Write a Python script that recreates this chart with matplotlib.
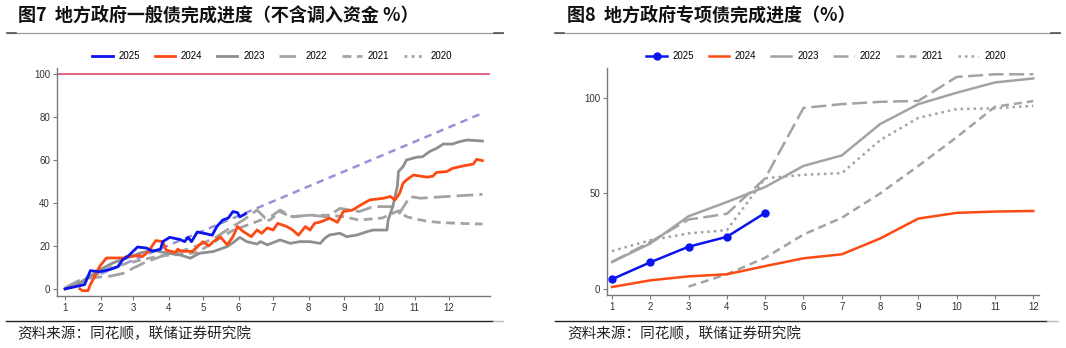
import matplotlib
matplotlib.use("Agg")
import matplotlib.pyplot as plt
from matplotlib.lines import Line2D

plt.rcParams["font.family"] = ["Noto Sans CJK SC", "DejaVu Sans"]

# ---------------- data ----------------
month_labels = [str(m) for m in range(1, 13)]
month_start_days = [0, 31, 59, 90, 120, 151, 181, 212, 243, 273, 304, 334]

# general bonds: cumulative completion (%) by day of year
gen_2025_day = [0, 13, 17, 22, 30, 39, 46, 50, 55, 63, 71, 76, 83, 85, 91, 100, 104,
                107, 110, 115, 124, 128, 132, 137, 142, 146, 150, 152, 157]
gen_2025_val = [0, 1.5, 2, 8.5, 8, 9, 10.4, 13.5, 15.3, 19.5, 19, 17.5, 18.5, 22, 24, 23, 22,
                24, 22, 26.5, 25.5, 25, 29, 32, 33, 36, 35.5, 33.5, 35]

gen_2024_day = [13, 15, 20, 22, 25, 30, 36, 51, 53, 65, 67, 72, 77, 79, 85, 88, 96, 98, 101,
                111, 114, 120, 125, 129, 135, 141, 146, 150, 155, 162, 167, 171, 176, 181,
                185, 193, 198, 203, 209, 213, 217, 223, 230, 237, 242, 250, 257, 265, 277,
                283, 287, 291, 294, 297, 303, 315, 320, 323, 332, 337, 346, 355, 358, 363]
gen_2024_val = [0, -0.8, -0.8, 2, 5, 10.4, 14.4, 14.4, 15, 15.5, 15, 17, 21, 22.5, 22, 18, 17,
                18.5, 17.5, 17.5, 19, 22, 20, 22, 24.3, 20.5, 24.3, 29, 26.7, 24.3, 27.4,
                25.9, 28.4, 27.4, 30.5, 29, 27.4, 25, 29, 27.4, 30.5, 31.3, 32.9, 31, 36,
                36.7, 39, 41.4, 42.2, 43, 41.4, 44.5, 49.2, 50.7, 53, 52, 52.5, 54.2, 54.6,
                56.1, 57.2, 58.1, 60.3, 59.7]

gen_2023_day = [0, 10, 19, 30, 42, 54, 65, 76, 89, 100, 109, 117, 129, 141, 146, 152, 158,
                167, 170, 176, 187, 196, 204, 213, 222, 226, 230, 239, 245, 254, 263, 268,
                280, 281, 285, 289, 290, 294, 297, 306, 311, 317, 323, 329, 337, 343, 350, 363]
gen_2023_val = [0, 1.9, 5, 8.8, 12.2, 14.4, 16.6, 18.1, 16.6, 15.8, 14.3, 16.6, 17.4, 19.7,
                21.5, 24, 22, 20.9, 22, 20.5, 22.8, 21.2, 22, 22, 21.2, 23.6, 25.1, 25.9,
                24.3, 25.1, 26.7, 27.4, 27.4, 32, 38.3, 47.6, 54.6, 56.9, 60, 61.3, 61.5,
                63.9, 65.4, 67.4, 67.4, 68.5, 69.3, 68.8]

gen_2022_day = [0, 16, 28, 39, 51, 59, 71, 83, 94, 109, 120, 132, 143, 155, 167, 174, 180,
                187, 198, 213, 228, 239, 256, 268, 285, 291, 300, 309, 332, 363]
gen_2022_val = [0.5, 5, 5.4, 5.9, 7.3, 9.6, 12.7, 15, 16.6, 18.9, 21.2, 24.3, 28.2, 32,
                36.7, 33, 34, 36.7, 33.5, 34.4, 33.5, 37.5, 36, 38.3, 38.3, 35.3, 43, 42.2,
                43, 44]

gen_2021_day = [0, 15, 25, 40, 55, 70, 85, 100, 115, 130, 145, 160, 170, 178, 187, 196, 213,
                230, 243, 256, 265, 276, 285, 290, 297, 306, 315, 326, 343, 363]
gen_2021_val = [0.3, 3, 6, 10, 12, 14, 15.5, 16, 17, 22, 27, 30, 32, 32, 36, 33.6, 34.3,
                34.3, 33.6, 32, 32.5, 33, 35.2, 36.4, 33.6, 32.4, 31.5, 30.9, 30.5, 30.2]

# linear time-progress line and full-year quota line
progress_day = [0, 364]
progress_val = [0, 82]
quota_level = 100

# special bonds: cumulative completion (%) by month
sp_months = list(range(1, 13))
sp_2025 = [4.9, 13.8, 22, 27.2, 39.8]
sp_2024 = [0.8, 4.3, 6.4, 7.5, 11.8, 15.9, 18, 26.3, 36.8, 39.8, 40.5, 40.8]
sp_2023 = [13.9, 23.7, 38, 45.5, 53.4, 64.5, 70, 86.5, 97, 103, 108.4, 110.5]
sp_2022 = [14, 24.5, 36.3, 39.3, 58, 95, 97, 98.2, 98.7, 111.3, 112.7, 112.7]
sp_2021_months = list(range(3, 13))
sp_2021 = [1, 7.5, 16.2, 28.4, 37.2, 50, 64.5, 79.6, 95.6, 98.6]
sp_2020 = [19.7, 25.4, 29, 30.7, 58, 59.8, 60.7, 78, 89.8, 94.4, 94.8, 96.1]

title_left = "图7  地方政府一般债完成进度（不含调入资金 %）"
title_right = "图8  地方政府专项债完成进度（%）"
source_text = "资料来源：同花顺，联储证券研究院"

# ---------------- styles ----------------
C_BLUE = "#0a14f0"
C_ORANGE = "#fc4a12"
C_GRAY_D = "#8f8f8f"
C_GRAY_L = "#a3a3a3"
C_PURPLE = "#9a90d8"
C_RED = "#d83a62"
LONG_DASH = (6, 2.2)
MID_DASH = (3.2, 2.0)
DOT = (1, 1.6)

W, H = 1066, 348
fig = plt.figure(figsize=(W / 100, H / 100), dpi=100)


def fx(px):
    return px / W


def fy(py):
    return 1 - py / H


def style_axes(ax):
    for s in ("top", "right"):
        ax.spines[s].set_visible(False)
    for s in ("left", "bottom"):
        ax.spines[s].set_color("#7a7a7a")
        ax.spines[s].set_linewidth(1.0)
    ax.tick_params(axis="both", colors="#7a7a7a", labelcolor="#333333",
                   labelsize=7, length=3, width=0.8, pad=2)
    for lab in ax.get_xticklabels() + ax.get_yticklabels():
        lab.set_family(["Liberation Sans", "DejaVu Sans"])


legend_kw = dict(loc="center", ncol=6, frameon=False, fontsize=7,
                 handlelength=2.1, columnspacing=1.5, handletextpad=0.6,
                 prop={"family": ["Liberation Sans", "DejaVu Sans"], "size": 7})
legend_kw.pop("fontsize")
order = ["2025", "2024", "2023", "2022", "2021", "2020"]

# ---------------- left panel ----------------
axL = fig.add_axes([fx(57), fy(296), fx(490 - 57), (296 - 68) / H])
lw = 2.0
axL.axhline(quota_level, color=C_RED, lw=1.1, zorder=1)
axL.plot(progress_day, progress_val, color=C_PURPLE, lw=1.8, dashes=(3, 2.2), zorder=2)
axL.plot(gen_2021_day, gen_2021_val, color=C_GRAY_L, lw=lw, dashes=MID_DASH, label="2021", zorder=3)
axL.plot(gen_2022_day, gen_2022_val, color=C_GRAY_L, lw=lw, dashes=LONG_DASH, label="2022", zorder=3)
axL.plot(gen_2023_day, gen_2023_val, color=C_GRAY_D, lw=lw, label="2023", zorder=4)
axL.plot(gen_2024_day, gen_2024_val, color=C_ORANGE, lw=lw, label="2024", zorder=5)
axL.plot(gen_2025_day, gen_2025_val, color=C_BLUE, lw=lw, label="2025", zorder=6)
axL.plot([], [], color=C_GRAY_L, lw=lw, dashes=DOT, label="2020")
axL.set_xlim(-7, 369.6)
axL.set_ylim(-3.3, 102.8)
axL.set_xticks(month_start_days)
axL.set_xticklabels(month_labels)
axL.set_yticks([0, 20, 40, 60, 80, 100])
style_axes(axL)

hL, lL = axL.get_legend_handles_labels()
hmap = dict(zip(lL, hL))
fig.legend([hmap[k] for k in order], order,
           bbox_to_anchor=(fx(272), fy(56)), **legend_kw)

# ---------------- right panel ----------------
axR = fig.add_axes([fx(607), fy(295), fx(1039 - 607), (295 - 68) / H])
lw2 = 1.8
axR.plot(sp_months, sp_2020, color=C_GRAY_L, lw=lw2, dashes=DOT, label="2020")
axR.plot(sp_2021_months, sp_2021, color=C_GRAY_L, lw=lw2, dashes=MID_DASH, label="2021")
axR.plot(sp_months, sp_2022, color=C_GRAY_L, lw=lw2, dashes=LONG_DASH, label="2022")
axR.plot(sp_months, sp_2023, color=C_GRAY_L, lw=lw2, label="2023")
axR.plot(sp_months, sp_2024, color=C_ORANGE, lw=lw2, label="2024")
axR.plot(sp_months[:len(sp_2025)], sp_2025, color=C_BLUE, lw=lw2, marker="o",
         markersize=5, label="2025")
axR.set_xlim(0.87, 12.15)
axR.set_ylim(-3.4, 116)
axR.set_xticks(sp_months)
axR.set_xticklabels(month_labels)
axR.set_yticks([0, 50, 100])
style_axes(axR)

hR, lR = axR.get_legend_handles_labels()
hmapR = dict(zip(lR, hR))
fig.legend([hmapR[k] for k in order], order,
           bbox_to_anchor=(fx(826), fy(56)), **legend_kw)

# ---------------- titles, rules, sources ----------------
fig.text(fx(18), fy(15), title_left, fontsize=13, fontweight="bold",
         ha="left", va="center", color="#111111")
fig.text(fx(567), fy(15), title_right, fontsize=13, fontweight="bold",
         ha="left", va="center", color="#111111")

for x0, x1 in ((7, 503), (555, 1060)):
    fig.add_artist(Line2D([fx(x0), fx(x1)], [fy(32.5), fy(32.5)], color="#9a9a9a", lw=0.9))
    fig.add_artist(Line2D([fx(x0), fx(x0 + 9)], [fy(32.5), fy(32.5)], color="#555555", lw=1.2))
    fig.add_artist(Line2D([fx(x1 - 9), fx(x1)], [fy(32.5), fy(32.5)], color="#555555", lw=1.2))

for x0, x1, x2 in ((6, 493, 503), (555, 1047, 1058)):
    fig.add_artist(Line2D([fx(x0), fx(x1)], [fy(321), fy(321)], color="#222222", lw=1.0))
    fig.add_artist(Line2D([fx(x1), fx(x2)], [fy(321), fy(321)], color="#bbbbbb", lw=1.0))

fig.text(fx(17), fy(334), source_text, fontsize=10.5, ha="left", va="center", color="#222222")
fig.text(fx(567), fy(334), source_text, fontsize=10.5, ha="left", va="center", color="#222222")

fig.savefig("out.png", dpi=100)
